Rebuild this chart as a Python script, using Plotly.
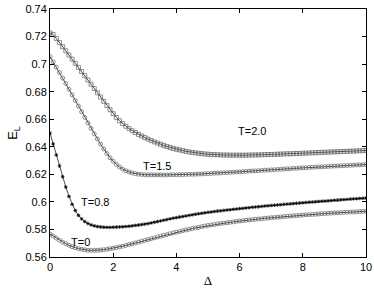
import plotly.graph_objects as go

delta = [round(i * 0.1, 1) for i in range(101)]

e_T20 = [
    0.7226, 0.7215, 0.7186, 0.7156, 0.7126, 0.7096, 0.7066, 0.7036, 0.7006, 0.6976,
    0.6946, 0.6916, 0.6885, 0.6854, 0.6823, 0.6792, 0.6761, 0.6730, 0.6699, 0.6669,
    0.6640, 0.6613, 0.6589, 0.6568, 0.6549, 0.6532, 0.6517, 0.6503, 0.6490, 0.6478,
    0.6467, 0.6456, 0.6446, 0.6436, 0.6427, 0.6418, 0.6410, 0.6402, 0.6395, 0.6388,
    0.6382, 0.6377, 0.6372, 0.6367, 0.6363, 0.6359, 0.6356, 0.6353, 0.6350, 0.6348,
    0.6346, 0.6344, 0.6343, 0.6342, 0.6341, 0.6340, 0.6340, 0.6339, 0.6339, 0.6339,
    0.6339, 0.6339, 0.6339, 0.6340, 0.6340, 0.6341, 0.6341, 0.6342, 0.6343, 0.6344,
    0.6344, 0.6345, 0.6346, 0.6347, 0.6348, 0.6349, 0.6349, 0.6350, 0.6351, 0.6352,
    0.6353, 0.6354, 0.6355, 0.6356, 0.6357, 0.6358, 0.6359, 0.6360, 0.6361, 0.6362,
    0.6363, 0.6364, 0.6365, 0.6366, 0.6367, 0.6368, 0.6369, 0.6370, 0.6371, 0.6372,
    0.6373,
]

e_T15 = [
    0.7055, 0.7017, 0.6978, 0.6939, 0.6899, 0.6859, 0.6818, 0.6777, 0.6736, 0.6695,
    0.6654, 0.6613, 0.6573, 0.6533, 0.6494, 0.6456, 0.6419, 0.6384, 0.6351, 0.6321,
    0.6295, 0.6272, 0.6253, 0.6238, 0.6226, 0.6217, 0.6210, 0.6205, 0.6201, 0.6199,
    0.6197, 0.6196, 0.6196, 0.6196, 0.6196, 0.6196, 0.6196, 0.6196, 0.6196, 0.6197,
    0.6197, 0.6198, 0.6198, 0.6199, 0.6200, 0.6200, 0.6201, 0.6202, 0.6203, 0.6204,
    0.6205, 0.6206, 0.6208, 0.6209, 0.6210, 0.6212, 0.6213, 0.6214, 0.6216, 0.6217,
    0.6218, 0.6220, 0.6221, 0.6223, 0.6224, 0.6225, 0.6227, 0.6228, 0.6230, 0.6231,
    0.6232, 0.6234, 0.6235, 0.6237, 0.6238, 0.6240, 0.6241, 0.6243, 0.6244, 0.6246,
    0.6247, 0.6248, 0.6250, 0.6251, 0.6252, 0.6254, 0.6255, 0.6256, 0.6257, 0.6259,
    0.6260, 0.6261, 0.6262, 0.6263, 0.6264, 0.6265, 0.6267, 0.6268, 0.6269, 0.6270,
    0.6271,
]

e_T08 = [
    0.6500, 0.6420, 0.6340, 0.6261, 0.6183, 0.6108, 0.6040, 0.5982, 0.5937, 0.5902,
    0.5876, 0.5857, 0.5843, 0.5833, 0.5826, 0.5821, 0.5818, 0.5816, 0.5815, 0.5815,
    0.5816, 0.5817, 0.5818, 0.5819, 0.5821, 0.5823, 0.5826, 0.5829, 0.5832, 0.5835,
    0.5838, 0.5842, 0.5847, 0.5852, 0.5857, 0.5862, 0.5867, 0.5872, 0.5877, 0.5882,
    0.5886, 0.5890, 0.5894, 0.5898, 0.5902, 0.5906, 0.5910, 0.5914, 0.5917, 0.5921,
    0.5924, 0.5927, 0.5930, 0.5933, 0.5935, 0.5938, 0.5941, 0.5943, 0.5946, 0.5948,
    0.5951, 0.5953, 0.5956, 0.5958, 0.5961, 0.5963, 0.5965, 0.5967, 0.5970, 0.5972,
    0.5974, 0.5976, 0.5978, 0.5980, 0.5982, 0.5984, 0.5986, 0.5988, 0.5990, 0.5992,
    0.5994, 0.5996, 0.5998, 0.5999, 0.6001, 0.6003, 0.6005, 0.6006, 0.6008, 0.6010,
    0.6012, 0.6013, 0.6015, 0.6017, 0.6018, 0.6020, 0.6022, 0.6023, 0.6025, 0.6026,
    0.6028,
]

e_T00 = [
    0.5767, 0.5752, 0.5737, 0.5722, 0.5708, 0.5696, 0.5685, 0.5675, 0.5667, 0.5661,
    0.5656, 0.5652, 0.5649, 0.5648, 0.5648, 0.5649, 0.5651, 0.5653, 0.5656, 0.5660,
    0.5664, 0.5668, 0.5673, 0.5678, 0.5684, 0.5690, 0.5696, 0.5702, 0.5708, 0.5714,
    0.5720, 0.5726, 0.5733, 0.5739, 0.5745, 0.5751, 0.5757, 0.5763, 0.5769, 0.5775,
    0.5780, 0.5785, 0.5791, 0.5796, 0.5801, 0.5806, 0.5811, 0.5815, 0.5820, 0.5825,
    0.5829, 0.5833, 0.5836, 0.5840, 0.5843, 0.5846, 0.5849, 0.5852, 0.5855, 0.5858,
    0.5861, 0.5864, 0.5866, 0.5869, 0.5871, 0.5874, 0.5876, 0.5878, 0.5881, 0.5883,
    0.5885, 0.5887, 0.5889, 0.5891, 0.5893, 0.5895, 0.5897, 0.5899, 0.5901, 0.5902,
    0.5904, 0.5906, 0.5907, 0.5909, 0.5910, 0.5912, 0.5914, 0.5915, 0.5917, 0.5918,
    0.5920, 0.5921, 0.5922, 0.5924, 0.5925, 0.5926, 0.5927, 0.5928, 0.5930, 0.5931,
    0.5932,
]

labels = ["T=2.0", "T=1.5", "T=0.8", "T=0"]
label_x = [6.4, 3.4, 1.42, 0.98]
label_y = [0.6513, 0.6264, 0.5997, 0.5710]

x_ticks = [0, 2, 4, 6, 8, 10]
y_ticks = [0.56, 0.58, 0.6, 0.62, 0.64, 0.66, 0.68, 0.7, 0.72, 0.74]
y_tick_text = ["0.56", "0.58", "0.6", "0.62", "0.64", "0.66", "0.68", "0.7", "0.72", "0.74"]

series = [
    (e_T20, "square-open", 4, "#606060", 0.7),
    (e_T15, "circle-open", 4, "#606060", 0.7),
    (e_T08, "asterisk-open", 3, "#000000", 0.8),
    (e_T00, "circle-open", 4, "#606060", 0.7),
]

fig = go.Figure()
for (vals, sym, sz, mc, mw), name in zip(series, labels):
    fig.add_trace(go.Scatter(
        x=delta, y=vals, mode="lines+markers", name=name,
        line=dict(color="black", width=0.7),
        marker=dict(symbol=sym, size=sz, color=mc,
                    line=dict(color=mc, width=mw)),
        showlegend=False,
    ))

for t, xx, yy in zip(labels, label_x, label_y):
    fig.add_annotation(x=xx, y=yy, text=t, showarrow=False,
                       font=dict(size=11, color="black",
                                 family="Liberation Sans, Arial, sans-serif"))

axis_common = dict(
    showline=True, linecolor="black", linewidth=1, mirror="ticks",
    ticks="inside", ticklen=4, tickcolor="black", tickwidth=1,
    showgrid=False, zeroline=False, automargin=False,
    tickfont=dict(size=11, color="black", family="Liberation Sans, Arial, sans-serif"),
)

fig.update_xaxes(range=[0, 10], tickvals=x_ticks, **axis_common,
                 title=dict(text="Δ", standoff=6,
                            font=dict(size=13, color="black",
                                      family="Liberation Serif, Times New Roman, serif")))
fig.update_yaxes(range=[0.56, 0.74], tickvals=y_ticks, ticktext=y_tick_text,
                 **axis_common,
                 title=dict(text="E<sub>L</sub>", standoff=4,
                            font=dict(size=13, color="black",
                                      family="Liberation Sans, Arial, sans-serif")))

fig.update_layout(
    width=374, height=288,
    margin=dict(l=50, r=8, t=9, b=31),
    paper_bgcolor="white", plot_bgcolor="white",
)

fig.write_html("out.html",
               config={"displayModeBar": False, "staticPlot": True},
               post_script="document.body.style.margin='0';document.body.style.overflow='hidden';")
